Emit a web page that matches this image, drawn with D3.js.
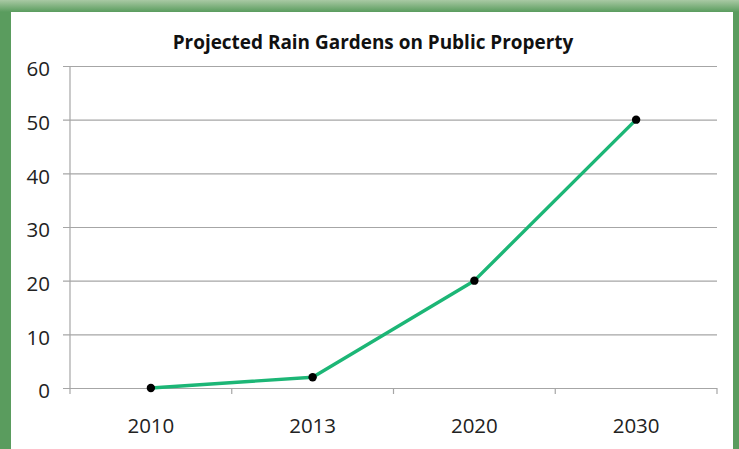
<!DOCTYPE html>
<html>
<head>
<meta charset="utf-8">
<script src="https://cdn.jsdelivr.net/npm/d3@7"></script>
<style>
  html, body { margin: 0; padding: 0; background: #ffffff; }
  svg { display: block; }
</style>
</head>
<body>
<svg id="chart" width="739" height="449"></svg>
<script>
// Projected rain gardens on public property
const years = ["2010", "2013", "2020", "2030"];
const gardens = [0, 2, 20, 50];
const yTicks = [0, 10, 20, 30, 40, 50, 60];
const chartTitle = "Projected Rain Gardens on Public Property";

const svg = d3.select("#chart");
const W = 739, H = 449;
const font = "'Open Sans', 'DejaVu Sans', sans-serif";

// Green frame around the chart
const defs = svg.append("defs");
const grad = defs.append("linearGradient").attr("id", "frameTop")
  .attr("x1", 0).attr("y1", 0).attr("x2", 0).attr("y2", 1);
grad.append("stop").attr("offset", "0").attr("stop-color", "#a9c9a4");
grad.append("stop").attr("offset", "1").attr("stop-color", "#5a9c5e");
svg.append("rect").attr("x", 0).attr("y", 0).attr("width", W).attr("height", H)
  .attr("fill", "#5a9c5e");
svg.append("rect").attr("x", 0).attr("y", 0).attr("width", W).attr("height", 12)
  .attr("fill", "url(#frameTop)");
svg.append("rect").attr("x", 11).attr("y", 12).attr("width", 722).attr("height", H - 12)
  .attr("fill", "#ffffff");

const x = d3.scaleBand().domain(years).range([70, 717]).padding(0);
const y = d3.scaleLinear().domain([0, 60]).range([388, 66]);

// Horizontal gridlines with short ticks to the left of the axis
svg.append("g")
  .attr("transform", "translate(70,0)")
  .call(d3.axisLeft(y).tickValues(yTicks).tickSize(-647).tickSizeOuter(0).tickFormat(""))
  .call(g => g.select(".domain").remove())
  .call(g => g.selectAll(".tick line").attr("stroke", "#a6a6a6").attr("stroke-width", 1.2)
    .attr("x1", -7));

// Y axis line
svg.append("line").attr("x1", 70).attr("x2", 70).attr("y1", y(60)).attr("y2", y(0))
  .attr("stroke", "#a6a6a6").attr("stroke-width", 1.2);

// Y tick labels
svg.append("g").selectAll("text").data(yTicks).join("text")
  .attr("x", 50).attr("y", d => y(d) + 3).attr("dy", "0.35em")
  .attr("text-anchor", "end")
  .attr("font-family", font).attr("font-size", 20.5).attr("fill", "#222")
  .text(d => d);

// X axis: category boundary ticks below the zero line
const bounds = years.map(d => x(d)).concat([x.range()[1]]);
svg.append("g").selectAll("line").data(bounds).join("line")
  .attr("x1", d => d).attr("x2", d => d).attr("y1", y(0)).attr("y2", y(0) + 6)
  .attr("stroke", "#a6a6a6").attr("stroke-width", 1.2);

svg.append("g").selectAll("text").data(years).join("text")
  .attr("x", d => x(d) + x.bandwidth() / 2).attr("y", 426).attr("dy", "0.35em")
  .attr("text-anchor", "middle")
  .attr("font-family", font).attr("font-size", 20.5).attr("fill", "#222")
  .text(d => d);

// Data line and markers
const pts = years.map((d, i) => ({ year: d, value: gardens[i] }));
const line = d3.line().x(d => x(d.year) + x.bandwidth() / 2).y(d => y(d.value));
svg.append("path").datum(pts).attr("d", line)
  .attr("fill", "none").attr("stroke", "#1cb676").attr("stroke-width", 3.4)
  .attr("stroke-linejoin", "round");
svg.append("g").selectAll("circle").data(pts).join("circle")
  .attr("cx", d => x(d.year) + x.bandwidth() / 2).attr("cy", d => y(d.value))
  .attr("r", 4.2).attr("fill", "#000");

// Title, sized to span the plot's upper centre
const title = svg.append("text").attr("x", 373).attr("y", 49)
  .attr("text-anchor", "middle")
  .attr("font-family", font).attr("font-weight", "bold").attr("font-size", 18)
  .attr("fill", "#111")
  .text(chartTitle);
const tw = title.node().getComputedTextLength();
title.attr("font-size", 18 * 401 / tw);
</script>
</body>
</html>
